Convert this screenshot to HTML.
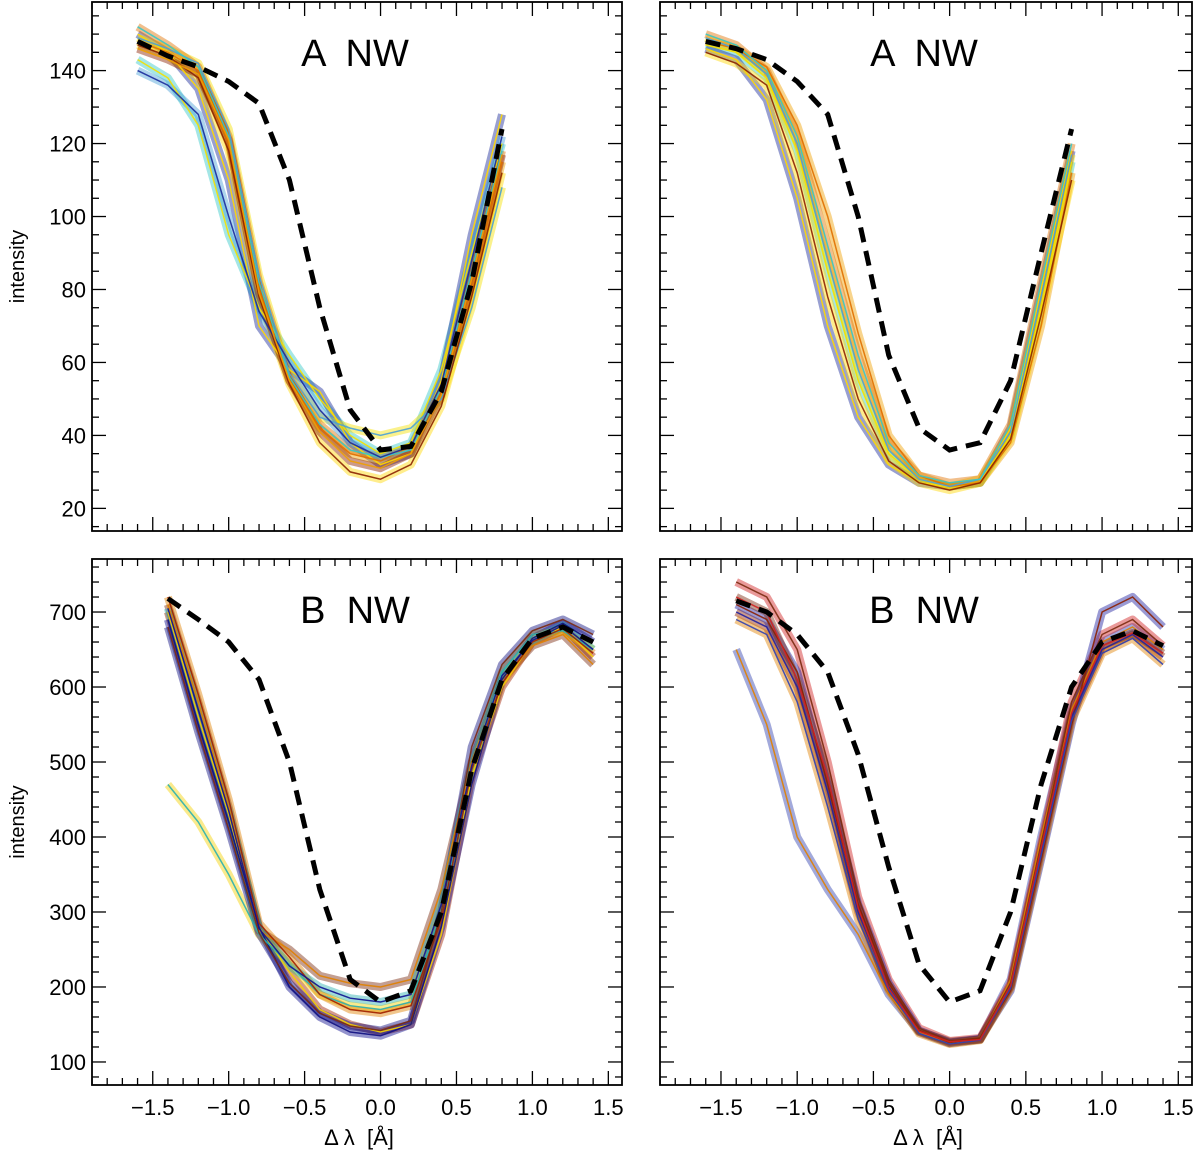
<!DOCTYPE html>
<html><head><meta charset="utf-8">
<style>
html,body{margin:0;padding:0;background:#fff;}
svg{display:block;font-family:"Liberation Sans",Arial,sans-serif;}
.pre{white-space:pre;}
</style></head>
<body>
<svg id="fig" width="1200" height="1155" viewBox="0 0 1200 1155" xmlns="http://www.w3.org/2000/svg"></svg>
<script>
// ---- data ----
const xTop = [-1.6,-1.4,-1.2,-1.0,-0.8,-0.6,-0.4,-0.2,0.0,0.2,0.4,0.6,0.8];
const xBot = [-1.4,-1.2,-1.0,-0.8,-0.6,-0.4,-0.2,0.0,0.2,0.4,0.6,0.8,1.0,1.2,1.4];

const refA_left  = [148,144,141,137,131,110,75,47,36,37,52,82,124];
const refA_right = [148,146,143,137,128,100,62,42,36,38,55,90,124];
const refB_left  = [718,690,660,610,500,330,210,180,195,300,490,610,665,680,660];
const refB_right = [715,700,670,620,510,360,230,180,195,300,470,600,660,675,655];

const profA_left = [
 [143,138,125,95,75,62,50,40,35,38,58,90,120],
 [150,145,135,110,70,58,52,38,32,35,55,95,128],
 [148,145,140,120,80,55,42,35,33,37,52,80,115],
 [149,146,142,124,84,57,45,42,40,42,50,75,108],
 [147,144,138,118,78,54,38,30,28,32,48,78,112],
 [152,147,141,122,82,56,43,36,34,36,53,85,118],
 [140,136,128,100,74,60,47,38,34,37,54,88,122],
 [146,143,139,121,79,55,41,33,31,35,51,83,117]
];
const profA_right = [
 [147,145,138,118,85,55,35,28,26,27,40,75,115],
 [146,143,132,105,70,45,32,27,26,27,42,80,118],
 [148,146,141,125,100,68,40,29,26,27,38,70,112],
 [149,146,139,120,88,58,36,28,26,28,41,78,117],
 [145,142,136,112,78,50,33,27,25,27,39,73,110],
 [150,147,140,122,92,62,38,29,27,28,43,82,120]
];
const profB_left = [
 [700,560,430,280,220,170,150,140,150,270,480,600,660,680,640],
 [710,580,440,275,250,215,205,200,210,330,500,610,655,670,630],
 [690,550,420,280,200,160,140,135,150,280,470,610,665,685,660],
 [470,420,350,270,230,190,175,170,180,300,490,620,670,675,650],
 [720,590,450,285,240,190,170,165,175,290,490,605,660,678,645],
 [680,540,410,272,205,165,148,142,155,300,520,630,675,690,670],
 [705,570,435,278,228,200,185,180,190,310,495,615,662,682,650]
];
const profB_right = [
 [700,680,600,460,300,200,140,125,130,200,380,560,650,670,640],
 [650,550,400,330,270,190,140,125,130,210,400,570,660,680,650],
 [740,720,650,500,320,210,145,128,132,205,390,580,670,690,655],
 [710,690,620,470,310,205,142,126,131,195,370,550,700,720,680],
 [690,670,580,440,290,195,138,124,129,198,375,555,645,665,630],
 [720,700,610,480,305,198,141,127,130,202,385,565,655,672,645]
];
const colorsA = ["#36c8c8","#1a2a9a","#f0a000","#f5e000","#ffd800","#e07000","#4aa0d8","#8b2000"];
const colorsBL = ["#a02000","#7a2a10","#101090","#f5d000","#e08000","#101080","#2ab0b0"];
const colorsBR = ["#8b2000","#3040b0","#d02020","#2020a0","#e08000","#7a2a10"];
const titles = ["A  NW","A  NW","B  NW","B  NW"];

const NS="http://www.w3.org/2000/svg";
const svg=document.getElementById('fig');
function mk(tag,attrs,parent){const e=document.createElementNS(NS,tag);for(const k in attrs)e.setAttribute(k,attrs[k]);(parent||svg).appendChild(e);return e;}

const xDom=[-1.9,1.59];
const panels=[
 {x0:92,x1:622,y0:2,y1:531,ymin:13.8,ymax:158.8,major:20,minor:5,labels:true,xs:xTop,ref:refA_left,profs:profA_left,cols:colorsA,name:'panel-a-left',xl:false},
 {x0:660,x1:1192,y0:2,y1:531,ymin:13.8,ymax:158.8,major:20,minor:5,labels:false,xs:xTop,ref:refA_right,profs:profA_right,cols:colorsA,name:'panel-a-right',xl:false},
 {x0:92,x1:622,y0:559,y1:1085,ymin:69.3,ymax:770.7,major:100,minor:20,labels:true,xs:xBot,ref:refB_left,profs:profB_left,cols:colorsBL,name:'panel-b-left',xl:true},
 {x0:660,x1:1192,y0:559,y1:1085,ymin:69.3,ymax:770.7,major:100,minor:20,labels:false,xs:xBot,ref:refB_right,profs:profB_right,cols:colorsBR,name:'panel-b-right',xl:true}
];

panels.forEach((p,pi)=>{
 const g=mk('g',{});
 
 
 const sx=v=>p.x0+(v-xDom[0])/(xDom[1]-xDom[0])*(p.x1-p.x0);
 const sy=v=>p.y1-(v-p.ymin)/(p.ymax-p.ymin)*(p.y1-p.y0);
 const cp=mk('clipPath',{id:'cp'+pi},g);
 mk('rect',{x:p.x0,y:p.y0,width:p.x1-p.x0,height:p.y1-p.y0},cp);
 const lines=mk('g',{'clip-path':'url(#cp'+pi+')'},g);
 p.profs.forEach((pr,i)=>{
  const d=pr.map((v,j)=>(j?'L':'M')+sx(p.xs[j]).toFixed(1)+' '+sy(v).toFixed(1)).join(' ');
  const w=mk('path',{d:d,fill:'none',stroke:p.cols[i%p.cols.length],'stroke-width':8,'stroke-opacity':0.45,'stroke-linejoin':'round'},lines);
  
  
 });
 p.profs.forEach((pr,i)=>{
  const d=pr.map((v,j)=>(j?'L':'M')+sx(p.xs[j]).toFixed(1)+' '+sy(v).toFixed(1)).join(' ');
  const l=mk('path',{d:d,fill:'none',stroke:p.cols[(i+3)%p.cols.length],'stroke-width':1.5,'stroke-opacity':0.9},lines);
  
  
 });
 const rd=p.ref.map((v,j)=>(j?'L':'M')+sx(p.xs[j]).toFixed(1)+' '+sy(v).toFixed(1)).join(' ');
 const rl=mk('path',{d:rd,fill:'none',stroke:'#000','stroke-width':5,'stroke-dasharray':'15 9'},lines);
 
 
 const fr=mk('rect',{x:p.x0,y:p.y0,width:p.x1-p.x0,height:p.y1-p.y0,fill:'none',stroke:'#000','stroke-width':1.8},g);
 
 
 for(let k=-19;k<=15;k++){
  const v=k/10, X=sx(v), maj=(k%5===0);
  const L=maj?14:7;
  mk('line',{x1:X,y1:p.y1,x2:X,y2:p.y1-L,stroke:'#000','stroke-width':1.3},g);
  mk('line',{x1:X,y1:p.y0,x2:X,y2:p.y0+L,stroke:'#000','stroke-width':1.3},g);
  if(maj&&p.xl){
   const t=mk('text',{x:X,y:p.y1+30,'font-size':22,'text-anchor':'middle'},g);
   t.textContent=(v<0?'\u2212':'')+Math.abs(v).toFixed(1);
   
   
  }
 }
 for(let v=Math.ceil(p.ymin/p.minor)*p.minor; v<=p.ymax; v+=p.minor){
  const Y=sy(v), maj=(Math.round(v)%p.major===0), L=maj?14:7;
  mk('line',{x1:p.x0,y1:Y,x2:p.x0+L,y2:Y,stroke:'#000','stroke-width':1.3},g);
  mk('line',{x1:p.x1,y1:Y,x2:p.x1-L,y2:Y,stroke:'#000','stroke-width':1.3},g);
  if(maj&&p.labels){
   const t=mk('text',{x:p.x0-6,y:Y+8,'font-size':22,'text-anchor':'end'},g);
   t.textContent=String(Math.round(v));
   
   
  }
 }
 const tt=mk('text',{x:(p.x0+p.x1)/2-2,y:p.y0+64,'font-size':38,'text-anchor':'middle','class':'pre'},g);
 tt.textContent=titles[pi];
 
 
 if(p.labels){
  const cy=(p.y0+p.y1)/2;
  const yl=mk('text',{x:24,y:cy,'font-size':20,'text-anchor':'middle',transform:'rotate(-90 24 '+cy+')'},g);
  yl.textContent='intensity';
  
  
 }
 if(p.xl){
  const xl=mk('text',{x:(p.x0+p.x1)/2+2,y:1145,'font-size':22,'text-anchor':'middle','class':'pre'},g);
  xl.textContent='\u0394 \u03bb  [\u00c5]';
  
  
 }
});
</script>
</body></html>
